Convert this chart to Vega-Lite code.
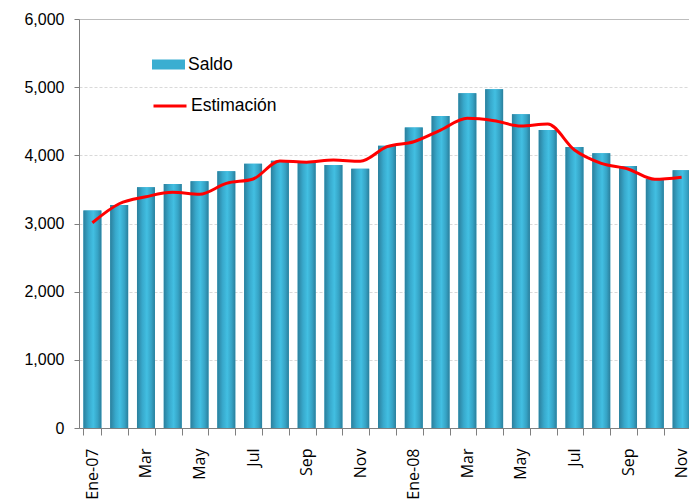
{
  "$schema": "https://vega.github.io/schema/vega-lite/v6.json",
  "width": 616,
  "height": 409,
  "autosize": {"type": "none"},
  "padding": {"left": 79, "top": 19, "right": 0, "bottom": 74},
  "background": "white",
  "config": {"view": {"stroke": null}},
  "data": {
    "values": [
      {"mes": "Ene-07", "serie": "Saldo", "valor": 3190}, {"mes": "Ene-07", "serie": "Estimación", "valor": 3011},
      {"mes": "Feb-07", "serie": "Saldo", "valor": 3270}, {"mes": "Feb-07", "serie": "Estimación", "valor": 3290},
      {"mes": "Mar-07", "serie": "Saldo", "valor": 3530}, {"mes": "Mar-07", "serie": "Estimación", "valor": 3393},
      {"mes": "Abr-07", "serie": "Saldo", "valor": 3580}, {"mes": "Abr-07", "serie": "Estimación", "valor": 3457},
      {"mes": "May-07", "serie": "Saldo", "valor": 3620}, {"mes": "May-07", "serie": "Estimación", "valor": 3428},
      {"mes": "Jun-07", "serie": "Saldo", "valor": 3765}, {"mes": "Jun-07", "serie": "Estimación", "valor": 3589},
      {"mes": "Jul-07", "serie": "Saldo", "valor": 3875}, {"mes": "Jul-07", "serie": "Estimación", "valor": 3653},
      {"mes": "Ago-07", "serie": "Saldo", "valor": 3920}, {"mes": "Ago-07", "serie": "Estimación", "valor": 3917},
      {"mes": "Sep-07", "serie": "Saldo", "valor": 3895}, {"mes": "Sep-07", "serie": "Estimación", "valor": 3900},
      {"mes": "Oct-07", "serie": "Saldo", "valor": 3858}, {"mes": "Oct-07", "serie": "Estimación", "valor": 3931},
      {"mes": "Nov-07", "serie": "Saldo", "valor": 3805}, {"mes": "Nov-07", "serie": "Estimación", "valor": 3912},
      {"mes": "Dic-07", "serie": "Saldo", "valor": 4140}, {"mes": "Dic-07", "serie": "Estimación", "valor": 4127},
      {"mes": "Ene-08", "serie": "Saldo", "valor": 4410}, {"mes": "Ene-08", "serie": "Estimación", "valor": 4200},
      {"mes": "Feb-08", "serie": "Saldo", "valor": 4577}, {"mes": "Feb-08", "serie": "Estimación", "valor": 4371},
      {"mes": "Mar-08", "serie": "Saldo", "valor": 4910}, {"mes": "Mar-08", "serie": "Estimación", "valor": 4543},
      {"mes": "Abr-08", "serie": "Saldo", "valor": 4968}, {"mes": "Abr-08", "serie": "Estimación", "valor": 4508},
      {"mes": "May-08", "serie": "Saldo", "valor": 4602}, {"mes": "May-08", "serie": "Estimación", "valor": 4430},
      {"mes": "Jun-08", "serie": "Saldo", "valor": 4371}, {"mes": "Jun-08", "serie": "Estimación", "valor": 4459},
      {"mes": "Jul-08", "serie": "Saldo", "valor": 4122}, {"mes": "Jul-08", "serie": "Estimación", "valor": 4078},
      {"mes": "Ago-08", "serie": "Saldo", "valor": 4029}, {"mes": "Ago-08", "serie": "Estimación", "valor": 3883},
      {"mes": "Sep-08", "serie": "Saldo", "valor": 3843}, {"mes": "Sep-08", "serie": "Estimación", "valor": 3800},
      {"mes": "Oct-08", "serie": "Saldo", "valor": 3653}, {"mes": "Oct-08", "serie": "Estimación", "valor": 3648},
      {"mes": "Nov-08", "serie": "Saldo", "valor": 3780}, {"mes": "Nov-08", "serie": "Estimación", "valor": 3678}
    ]
  },
  "encoding": {
    "x": {
      "field": "mes", "type": "ordinal", "sort": null,
      "scale": {"paddingInner": 0.33, "paddingOuter": 0.165},
      "axis": {
        "title": null,
        "labelAngle": -90,
        "labelAlign": "right",
        "labelBaseline": "middle",
        "tickSize": 7,
        "labelPadding": 13,
        "tickBand": "extent",
        "domainColor": "#7f7f7f",
        "tickColor": "#7f7f7f",
        "labelFont": "Open Sans",
        "labelFontSize": 16,
        "labelColor": "#000000",
        "labelOverlap": false,
        "labelBound": false,
        "labelExpr": "(''+datum.value) == 'Ene-07' || (''+datum.value) == 'Ene-08' ? (''+datum.value) : (test(/^(Mar|May|Jul|Sep|Nov)/, ''+datum.value) ? substring(''+datum.value, 0, 3) : '')"
      }
    },
    "y": {
      "field": "valor", "type": "quantitative",
      "scale": {"domain": [0, 6000], "nice": false},
      "axis": {
        "title": null,
        "values": [0, 1000, 2000, 3000, 4000, 5000, 6000],
        "format": ",.0f",
        "tickSize": 5,
        "labelPadding": 10,
        "labelFont": "Liberation Sans",
        "labelFontSize": 16,
        "labelColor": "#000000",
        "domainColor": "#7f7f7f",
        "tickColor": "#7f7f7f",
        "grid": true,
        "gridColor": {"condition": {"test": "datum.value == 6000", "value": "#a6a6a6"}, "value": "#d9d9d9"},
        "gridDash": {"condition": {"test": "datum.value == 6000", "value": [1, 0]}, "value": [3, 2]}
      }
    }
  },
  "layer": [
    {
      "transform": [{"filter": "datum.serie == 'Saldo'"}],
      "mark": {"type": "bar"},
      "encoding": {
        "fill": {
          "field": "serie", "type": "nominal",
          "scale": {"domain": ["Saldo"], "range": ["#3aaed1"]},
          "legend": {
            "orient": "none",
            "legendX": 73,
            "legendY": 29,
            "title": null,
            "padding": 0,
            "symbolType": "M-1,-0.3H1V0.3H-1Z",
            "symbolSize": 1089,
            "symbolStrokeWidth": 0,
            "labelFont": "Liberation Sans",
            "labelFontSize": 17.5,
            "labelColor": "#000000",
            "labelOffset": 3
          }
        }
      }
    },
    {
      "transform": [{"filter": "datum.serie == 'Saldo'"}],
      "mark": {
        "type": "bar",
        "fill": {"gradient": "linear", "x1": 0, "y1": 0, "x2": 1, "y2": 0,
          "stops": [
            {"offset": 0, "color": "#2b7f9c"},
            {"offset": 0.3, "color": "#38a9cc"},
            {"offset": 0.55, "color": "#42bfe2"},
            {"offset": 0.8, "color": "#36a3c5"},
            {"offset": 1, "color": "#2b7f9c"}
          ]}
      },
      "encoding": {}
    },
    {
      "transform": [{"filter": "datum.serie == 'Estimación'"}],
      "mark": {"type": "line", "interpolate": "monotone", "strokeWidth": 3},
      "encoding": {
        "stroke": {
          "field": "serie", "type": "nominal",
          "scale": {"domain": ["Estimación"], "range": ["#ff0000"]},
          "legend": {
            "orient": "none",
            "legendX": 73,
            "legendY": 69,
            "title": null,
            "padding": 0,
            "symbolType": "stroke",
            "symbolSize": 1089,
            "symbolStrokeWidth": 3,
            "labelFont": "Liberation Sans",
            "labelFontSize": 17.5,
            "labelColor": "#000000",
            "labelOffset": 3
          }
        }
      }
    }
  ]
}
